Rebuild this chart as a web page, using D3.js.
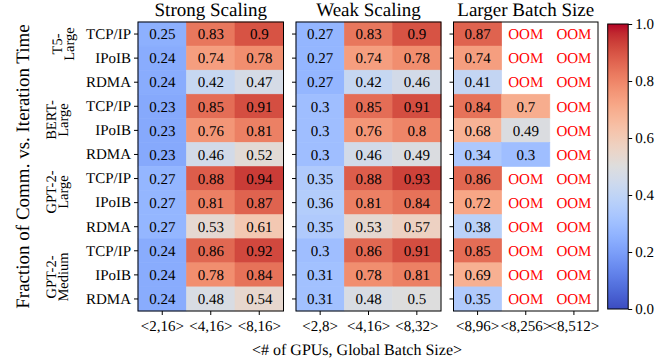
<!DOCTYPE html>
<html><head><meta charset="utf-8">
<script src="https://cdn.jsdelivr.net/npm/d3@7"></script>
<style>body{margin:0;background:#fff}svg{display:block}svg text{font-family:"Liberation Serif","Times New Roman",serif !important;text-rendering:geometricPrecision}</style>
</head><body>
<svg id="c" width="667" height="360" font-family="Liberation Serif"></svg>
<script>
const rowLabels = ["TCP/IP","IPoIB","RDMA","TCP/IP","IPoIB","RDMA","TCP/IP","IPoIB","RDMA","TCP/IP","IPoIB","RDMA"];
const groupLabels = [["T5-","Large"],["BERT-","Large"],["GPT-2-","Large"],["GPT-2-","Medium"]];
const panelTitles = ["Strong Scaling","Weak Scaling","Larger Batch Size"];
const colLabels = [["<2,16>","<4,16>","<8,16>"],["<2,8>","<4,16>","<8,32>"],["<8,96>","<8,256>","<8,512>"]];
const strongValues = [
  [0.25,0.83,0.9],[0.24,0.74,0.78],[0.24,0.42,0.47],
  [0.23,0.85,0.91],[0.23,0.76,0.81],[0.23,0.46,0.52],
  [0.27,0.88,0.94],[0.27,0.81,0.87],[0.27,0.53,0.61],
  [0.24,0.86,0.92],[0.24,0.78,0.84],[0.24,0.48,0.54]];
const weakValues = [
  [0.27,0.83,0.9],[0.27,0.74,0.78],[0.27,0.42,0.46],
  [0.3,0.85,0.91],[0.3,0.76,0.8],[0.3,0.46,0.49],
  [0.35,0.88,0.93],[0.36,0.81,0.84],[0.35,0.53,0.57],
  [0.3,0.86,0.91],[0.31,0.78,0.81],[0.31,0.48,0.5]];
const largerValues = [
  [0.87,null,null],[0.74,null,null],[0.41,null,null],
  [0.84,0.7,null],[0.68,0.49,null],[0.34,0.3,null],
  [0.86,null,null],[0.72,null,null],[0.38,null,null],
  [0.85,null,null],[0.69,null,null],[0.35,null,null]];
const colorbarTicks = [0,0.2,0.4,0.6,0.8,1.0];
const xAxisLabel = "<# of GPUs, Global Batch Size>";
const yAxisLabel = "Fraction of Comm. vs. Iteration Time";

// coolwarm colormap (Moreland)
const cw = [[59,76,192],[68,90,204],[77,104,215],[87,117,225],[98,130,234],[108,142,241],[119,154,247],[130,165,251],[141,176,254],[152,185,255],[163,194,255],[174,201,253],[184,208,249],[194,213,244],[204,217,238],[213,219,230],[221,221,221],[229,216,209],[236,211,197],[241,204,184],[245,196,172],[247,187,159],[247,177,147],[247,166,134],[244,154,123],[241,141,111],[236,127,99],[229,112,88],[222,96,77],[213,80,66],[203,62,56],[192,40,47],[180,4,38]];
function coolwarm(t){
  t = Math.max(0, Math.min(1, t));
  const p = t*(cw.length-1), i = Math.min(cw.length-2, Math.floor(p)), f = p-i;
  const a = cw[i], b = cw[i+1];
  return `rgb(${Math.round(a[0]+(b[0]-a[0])*f)},${Math.round(a[1]+(b[1]-a[1])*f)},${Math.round(a[2]+(b[2]-a[2])*f)})`;
}
const color = d3.scaleSequential(coolwarm).domain([0,1]);
const FONT = '"Liberation Serif","Times New Roman",serif';

const svg = d3.select("#c");
const plotTop = 22, plotBottom = 311;
const panels = [[138,283.5],[296,441],[453.5,598]];
const allValues = [strongValues, weakValues, largerValues];
const y = d3.scaleBand().domain(d3.range(rowLabels.length)).range([plotTop,plotBottom]);

panels.forEach((px, pi) => {
  const x = d3.scaleBand().domain(d3.range(3)).range(px);
  const g = svg.append("g");
  const cells = [];
  allValues[pi].forEach((row, ri) => row.forEach((v, ci) => cells.push({ri, ci, v})));
  g.selectAll("rect.cell").data(cells.filter(d => d.v !== null)).join("rect")
    .attr("x", d => x(d.ci)).attr("y", d => y(d.ri))
    .attr("width", x.bandwidth()).attr("height", y.bandwidth())
    .attr("fill", d => color(d.v)).attr("stroke", d => color(d.v)).attr("stroke-width", 0.6);
  g.selectAll("text.val").data(cells).join("text")
    .attr("x", d => x(d.ci) + x.bandwidth()/2).attr("y", d => y(d.ri) + y.bandwidth()/2)
    .attr("dy", "0.35em").attr("text-anchor", "middle").attr("font-size", 15)
    .attr("fill", d => d.v === null ? "#ff0000" : "#000")
    .text(d => d.v === null ? "OOM" : String(d.v));
  g.append("rect").attr("x", px[0]).attr("y", plotTop).attr("width", px[1]-px[0]).attr("height", plotBottom-plotTop)
    .attr("fill", "none").attr("stroke", "#000").attr("stroke-width", 1);
  const ya = d3.axisLeft(y).tickSize(4).tickPadding(3).tickFormat(i => pi === 0 ? rowLabels[i] : "");
  const yg = svg.append("g").attr("transform", `translate(${px[0]},0)`).call(ya);
  const xa = d3.axisBottom(x).tickSize(4).tickPadding(3).tickFormat(i => colLabels[pi][i]);
  const xg = svg.append("g").attr("transform", `translate(0,${plotBottom})`).call(xa);
  [yg, xg].forEach(a => {
    a.attr("font-family", FONT).attr("font-size", 15);
    a.select(".domain").remove();
    a.selectAll("text").attr("font-size", 15).attr("fill", "#000");
    a.selectAll("line").attr("stroke", "#000");
  });
  xg.selectAll("text").attr("dy", "0.85em");
  svg.append("text").attr("x", (px[0]+px[1])/2).attr("y", plotTop-6).attr("text-anchor", "middle")
    .attr("font-size", 19).text(panelTitles[pi]);
});

// group labels
const groupCenters = [[63,44], [57,120], [57,192], [57,277]];
groupLabels.forEach((lines, gi) => {
  const t = svg.append("text").attr("transform", `translate(${groupCenters[gi][0]},${groupCenters[gi][1]}) rotate(-90)`)
    .attr("text-anchor", "middle").attr("font-size", 14.5);
  lines.forEach((ln, li) => t.append("tspan").attr("x", 0).attr("y", (li - 0.5) * 12.5).attr("dy", "0.35em").text(ln));
});

svg.append("text").attr("transform", `translate(22,${(plotTop+plotBottom)/2}) rotate(-90)`)
  .attr("text-anchor", "middle").attr("dy", "0.35em").attr("font-size", 19).text(yAxisLabel);
svg.append("text").attr("x", 357).attr("y", 349).attr("dy", "0.35em").attr("text-anchor", "middle")
  .attr("font-size", 16).text(xAxisLabel);

// colorbar
const cbX = 607.7, cbW = 20.5, cbTop = 24, cbBot = 309;
const defs = svg.append("defs");
const grad = defs.append("linearGradient").attr("id", "cbg").attr("x1", 0).attr("y1", 1).attr("x2", 0).attr("y2", 0);
d3.range(0, 1.0001, 1/64).forEach(t => grad.append("stop").attr("offset", t).attr("stop-color", color(t)));
svg.append("rect").attr("x", cbX).attr("y", cbTop).attr("width", cbW).attr("height", cbBot-cbTop)
  .attr("fill", "url(#cbg)").attr("stroke", "#000").attr("stroke-width", 1);
const cy = d3.scaleLinear().domain([0,1]).range([cbBot, cbTop]);
const cbAxis = svg.append("g").attr("transform", `translate(${cbX+cbW},0)`)
  .call(d3.axisRight(cy).tickValues(colorbarTicks).tickFormat(d3.format(".1f")).tickSize(4).tickPadding(3));
cbAxis.attr("font-family", FONT).attr("font-size", 15);
cbAxis.select(".domain").remove();
cbAxis.selectAll("text").attr("font-size", 15).attr("fill", "#000");
cbAxis.selectAll("line").attr("stroke", "#000");
</script>
</body></html>
